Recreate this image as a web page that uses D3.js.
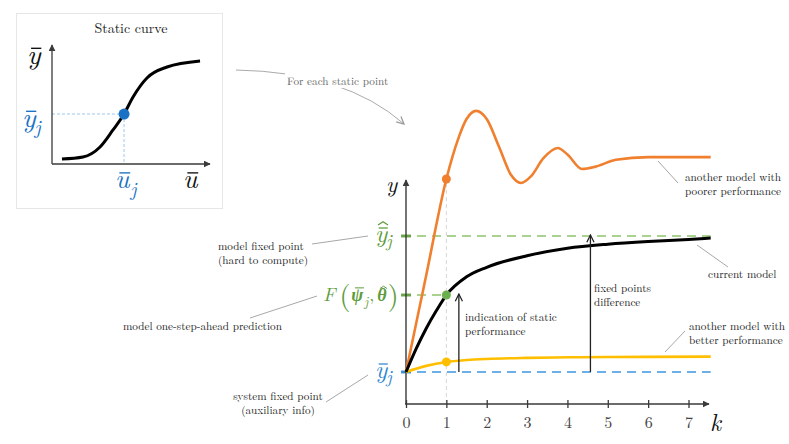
<!DOCTYPE html>
<html><head><meta charset="utf-8">
<script src="https://cdn.jsdelivr.net/npm/d3@7"></script>
<style>
html,body{margin:0;padding:0;background:#fff;}
svg{display:block;}
</style></head>
<body>
<svg id="c" width="789" height="444"></svg>
<script>
// ---------------- DATA ----------------
const kTicks = [0,1,2,3,4,5,6,7];
// current model (black)
const currentK = [0, 0.25, 0.5, 0.75, 1, 1.5, 2, 3, 4, 5, 6, 7, 7.55];
const currentY = [0, 0.17, 0.32, 0.45, 0.566, 0.70, 0.77, 0.855, 0.91, 0.94, 0.96, 0.975, 0.985];
// another model with better performance (yellow)
const betterK = [0, 0.5, 1, 1.5, 2, 3, 4, 5, 6, 7.55];
const betterY = [0, 0.045, 0.074, 0.088, 0.096, 0.104, 0.108, 0.110, 0.111, 0.113];
// another model with poorer performance (orange)
const poorerK = [0, 0.5, 1, 1.3, 1.5, 1.74, 2.0, 2.3, 2.6, 2.85, 3.1, 3.4, 3.76, 4.0, 4.36, 4.7, 5.2, 6, 7.55];
const poorerY = [0, 0.71, 1.419, 1.72, 1.86, 1.92, 1.86, 1.66, 1.45, 1.39, 1.44, 1.57, 1.647, 1.60, 1.493, 1.51, 1.56, 1.58, 1.58];
// reference levels
const systemFixedLevel = 0;
const oneStepLevel = 0.566;
const modelFixedLevel = 1;
const markerK = 1;
const indicationArrowK = 1.31;
const fixedDiffArrowK = 4.57;
// inset static curve
const staticU = [0.063, 0.196, 0.304, 0.386, 0.456, 0.513, 0.601, 0.728, 0.937];
const staticY = [0.042, 0.059, 0.143, 0.286, 0.42, 0.563, 0.723, 0.815, 0.866];
const staticPointU = 0.456, staticPointY = 0.42;

// ---------------- COLORS ----------------
const C = {
  axis:"#3a3a3a", black:"#000", orange:"#f07f2e", yellow:"#ffbf00",
  green:"#5e9c3b", greenDot:"#6ab04c", greenDash:"#8dc46b",
  blue:"#2f86d1", blueDash:"#3d97e0", blueDot:"#1a72c4",
  note:"#222", lead:"#a8a8a8"
};
const SERIF = "'Latin Modern Roman', 'Liberation Serif', serif";

const svg = d3.select("#c");
const defs = svg.append("defs");
function marker(id, color, size){
  defs.append("marker").attr("id",id).attr("viewBox","0 0 10 10").attr("refX",9).attr("refY",5)
    .attr("markerWidth",size).attr("markerHeight",size).attr("orient","auto-start-reverse")
    .attr("markerUnits","userSpaceOnUse")
    .append("path").attr("d","M0,0 L10,5 L0,10 z").attr("fill",color);
}
function openMarker(id, color, size){
  defs.append("marker").attr("id",id).attr("viewBox","0 0 10 10").attr("refX",9).attr("refY",5)
    .attr("markerWidth",size).attr("markerHeight",size).attr("orient","auto")
    .attr("markerUnits","userSpaceOnUse")
    .append("path").attr("d","M1,1 L9,5 L1,9").attr("fill","none").attr("stroke",color).attr("stroke-width",1.4);
}
marker("axArrow", C.axis, 7);
openMarker("openBlack", "#222", 9);
openMarker("openGray", "#999", 9);

// math label helper
function mathVar(g, o){
  const size=o.size, x=o.x, y=o.y;
  const t = g.append("text").attr("x",x).attr("y",y).attr("font-size",size).attr("font-family",SERIF)
    .attr("font-style","italic").attr("font-weight",o.bold?"bold":"normal")
    .attr("fill",o.color).text(o.letter);
  const w = t.node().getComputedTextLength();
  const xh = o.xh || 0.43;
  if(o.bar){
    const by = y - size*(xh+0.13);
    g.append("line").attr("x1",x+w*0.3).attr("x2",x+w*1.05).attr("y1",by).attr("y2",by)
      .attr("stroke",o.color).attr("stroke-width",Math.max(1,size*0.05));
  }
  if(o.hat){
    const hy = y - size*(xh+ (o.bar?0.33:0.15));
    const cx = x + w*0.66;
    g.append("path").attr("d",`M${cx-size*0.2},${hy+size*0.08} L${cx},${hy-size*0.05} L${cx+size*0.2},${hy+size*0.08}`)
      .attr("fill","none").attr("stroke",o.color).attr("stroke-width",Math.max(1,size*0.05));
  }
  let end = x+w;
  if(o.sub){
    const s = g.append("text").attr("x",x+w+(o.subDx||1)).attr("y",y+size*(o.subDy||0.28)).attr("font-size",size*0.72)
      .attr("font-family",SERIF).attr("font-style","italic").attr("fill",o.color).text(o.sub);
    end = x+w+(o.subDx||1)+s.node().getComputedTextLength();
  }
  return end;
}

// ---------------- MAIN PLOT ----------------
const x = d3.scaleLinear().domain([0,7]).range([406, 688.5]);
const y = d3.scaleLinear().domain([0,1]).range([372, 236]);
const xAxisY = 404;
const g = svg.append("g");

// light gray vertical dashed at k=1
g.append("line").attr("x1",x(markerK)).attr("x2",x(markerK)).attr("y1",xAxisY).attr("y2",y(poorerY[2]))
  .attr("stroke","#d6d6d6").attr("stroke-width",1).attr("stroke-dasharray","4,3");

// reference dashed levels
g.append("line").attr("x1",402).attr("x2",x(7.55)).attr("y1",y(modelFixedLevel)).attr("y2",y(modelFixedLevel))
  .attr("stroke",C.greenDash).attr("stroke-width",1.6).attr("stroke-dasharray","9,6");
g.append("line").attr("x1",402).attr("x2",x(markerK)).attr("y1",y(oneStepLevel)).attr("y2",y(oneStepLevel))
  .attr("stroke",C.greenDash).attr("stroke-width",1.6).attr("stroke-dasharray","9,6");
g.append("line").attr("x1",402).attr("x2",x(7.55)).attr("y1",y(systemFixedLevel)).attr("y2",y(systemFixedLevel))
  .attr("stroke",C.blueDash).attr("stroke-width",1.6).attr("stroke-dasharray","9,6");
// small solid ticks on y axis
[[modelFixedLevel,C.green],[oneStepLevel,C.green],[systemFixedLevel,C.blue]].forEach(([v,c])=>{
  g.append("line").attr("x1",401).attr("x2",411).attr("y1",y(v)).attr("y2",y(v)).attr("stroke",c).attr("stroke-width",3).attr("opacity",0.85);
});

// axes
const xAxis = d3.axisBottom(x).tickValues(kTicks).tickSize(0).tickFormat(d3.format("d"));
const ax = g.append("g").attr("transform",`translate(0,${xAxisY})`).call(xAxis).attr("font-family",SERIF);
ax.select(".domain").remove();
ax.selectAll(".tick text").attr("font-size",16).attr("fill","#444").attr("dy",0).attr("y",24)
  .attr("font-family",SERIF);
ax.selectAll(".tick").append("line").attr("y1",-4).attr("y2",4).attr("stroke",C.axis).attr("stroke-width",1.3);
g.append("line").attr("x1",x(0)-1).attr("x2",709).attr("y1",xAxisY).attr("y2",xAxisY)
  .attr("stroke",C.axis).attr("stroke-width",1.4).attr("marker-end","url(#axArrow)");
g.append("line").attr("x1",x(0)).attr("x2",x(0)).attr("y1",xAxisY).attr("y2",180)
  .attr("stroke",C.axis).attr("stroke-width",1.4).attr("marker-end","url(#axArrow)");

// curves
const line = d3.line().x(d=>x(d[0])).y(d=>y(d[1])).curve(d3.curveMonotoneX);
g.append("path").datum(poorerK.map((k,i)=>[k,poorerY[i]])).attr("d",line)
  .attr("fill","none").attr("stroke",C.orange).attr("stroke-width",2.6);
g.append("path").datum(betterK.map((k,i)=>[k,betterY[i]])).attr("d",line)
  .attr("fill","none").attr("stroke",C.yellow).attr("stroke-width",2.6);
g.append("path").datum(currentK.map((k,i)=>[k,currentY[i]])).attr("d",line)
  .attr("fill","none").attr("stroke",C.black).attr("stroke-width",3);

// dots at k=1
g.append("circle").attr("cx",x(markerK)).attr("cy",y(poorerY[2])).attr("r",4.5).attr("fill",C.orange);
g.append("circle").attr("cx",x(markerK)).attr("cy",y(oneStepLevel)).attr("r",4.5).attr("fill",C.greenDot);
g.append("circle").attr("cx",x(markerK)).attr("cy",y(betterY[2])).attr("r",4.5).attr("fill",C.yellow);

// arrows
g.append("line").attr("x1",x(indicationArrowK)).attr("x2",x(indicationArrowK)).attr("y1",y(systemFixedLevel)).attr("y2",y(oneStepLevel)-1)
  .attr("stroke","#222").attr("stroke-width",1.3).attr("marker-end","url(#openBlack)");
g.append("line").attr("x1",x(fixedDiffArrowK)).attr("x2",x(fixedDiffArrowK)).attr("y1",y(systemFixedLevel)).attr("y2",y(modelFixedLevel)-1)
  .attr("stroke","#222").attr("stroke-width",1.3).attr("marker-end","url(#openBlack)");

// axis labels
mathVar(g,{x:386,y:192,letter:"y",size:23,color:"#111"});
mathVar(g,{x:710,y:431,letter:"k",size:24,color:"#111"});

// left level labels
mathVar(g,{x:375,y:378,letter:"y",size:25,color:C.blue,bar:true,sub:"j",subDx:-1,subDy:0.2});
mathVar(g,{x:375,y:242,letter:"y",size:25,color:C.green,bar:true,hat:true,sub:"j",subDx:-1,subDy:0.2});
// F(psi_j, theta)
(function(){
  const by=301, c=C.green;
  let cx=323;
  let t=g.append("text").attr("x",cx).attr("y",by).attr("font-size",19).attr("font-family",SERIF).attr("font-style","italic").attr("fill",c).text("F");
  cx+=t.node().getComputedTextLength()+4;
  t=g.append("text").attr("x",cx).attr("y",by+4).attr("font-size",28).attr("font-family",SERIF).attr("fill",c).text("(");
  cx+=t.node().getComputedTextLength()+1;
  cx=mathVar(g,{x:cx,y:by,letter:"ψ",size:18,color:c,bold:true,bar:true,xh:0.6,sub:"j",subDx:0,subDy:0.3});
  t=g.append("text").attr("x",cx+1).attr("y",by).attr("font-size",18).attr("font-family",SERIF).attr("fill",c).text(",");
  cx+=t.node().getComputedTextLength()+4;
  cx=mathVar(g,{x:cx,y:by,letter:"θ",size:18,color:c,bold:true,hat:true,xh:0.62});
  g.append("text").attr("x",cx+1).attr("y",by+4).attr("font-size",28).attr("font-family",SERIF).attr("fill",c).text(")");
})();

// annotations
function note(lines, x0, y0, anchor, lh){
  lines.forEach((s,i)=>svg.append("text").attr("font-size",11.2).attr("font-family",SERIF).attr("fill",C.note)
    .attr("text-anchor",anchor||"start").attr("x",x0).attr("y",y0+i*(lh||14)).text(s));
}
function lead(x1,y1,x2,y2){
  svg.append("line").attr("x1",x1).attr("y1",y1).attr("x2",x2).attr("y2",y2).attr("stroke",C.lead).attr("stroke-width",1);
}
note(["model fixed point","(hard to compute)"],218,250);
lead(312,244,368,236);
note(["model one-step-ahead prediction"],123,330);
lead(250,318,317,296);
note(["system fixed point","(auxiliary info)"],278,400,"middle");
lead(326,402,368,375);
note(["another model with","poorer performance"],685,181);
lead(658,161,678,183);
note(["current model"],708,278);
lead(697,245,728,267);
note(["fixed points","difference"],594,292);
note(["another model with","better performance"],689,330);
lead(665,352,685,331);
note(["indication of static","performance"],465,321);

// ---------------- INSET ----------------
const ins = svg.append("g");
ins.append("rect").attr("x",16.5).attr("y",13.5).attr("width",206).attr("height",195)
  .attr("fill","#fff").attr("stroke","#e6e6e6").attr("stroke-width",1);
ins.append("text").attr("x",131).attr("y",33).attr("text-anchor","middle").attr("font-size",14)
  .attr("font-family",SERIF).attr("fill","#222").text("Static curve");
const sx = d3.scaleLinear().domain([0,1]).range([52,210]);
const sy = d3.scaleLinear().domain([0,1]).range([164,45]);
ins.append("line").attr("x1",sx(0)).attr("x2",sx(staticPointU)).attr("y1",sy(staticPointY)).attr("y2",sy(staticPointY))
  .attr("stroke","#9cc8ec").attr("stroke-width",1).attr("stroke-dasharray","3,2");
ins.append("line").attr("x1",sx(staticPointU)).attr("x2",sx(staticPointU)).attr("y1",sy(staticPointY)).attr("y2",sy(0))
  .attr("stroke","#9cc8ec").attr("stroke-width",1).attr("stroke-dasharray","3,2");
ins.append("line").attr("x1",sx(0)).attr("x2",210).attr("y1",sy(0)).attr("y2",sy(0))
  .attr("stroke",C.axis).attr("stroke-width",1.3).attr("marker-end","url(#axArrow)");
ins.append("line").attr("x1",sx(0)).attr("x2",sx(0)).attr("y1",sy(0)).attr("y2",45)
  .attr("stroke",C.axis).attr("stroke-width",1.3).attr("marker-end","url(#axArrow)");
const sline = d3.line().x(d=>sx(d[0])).y(d=>sy(d[1])).curve(d3.curveMonotoneX);
ins.append("path").datum(staticU.map((u,i)=>[u,staticY[i]])).attr("d",sline)
  .attr("fill","none").attr("stroke","#000").attr("stroke-width",3);
ins.append("circle").attr("cx",sx(staticPointU)).attr("cy",sy(staticPointY)).attr("r",5.5).attr("fill",C.blueDot);
mathVar(ins,{x:27,y:64,letter:"y",size:28,color:"#111",bar:true});
mathVar(ins,{x:183,y:188,letter:"u",size:27,color:"#111",bar:true});
mathVar(ins,{x:22,y:127,letter:"y",size:28,color:C.blueDot,bar:true,sub:"j",subDx:-1,subDy:0.24});
mathVar(ins,{x:115,y:188,letter:"u",size:27,color:C.blueDot,bar:true,sub:"j",subDx:1,subDy:0.3});

// connector arrow "For each static point"
svg.append("path").attr("d","M236,70 Q345,72 404,124").attr("fill","none").attr("stroke","#aaa").attr("stroke-width",1)
  .attr("marker-end","url(#openGray)");
const bgRect = svg.append("rect").attr("fill","#fff");
const ft = svg.append("text").attr("x",287).attr("y",85).attr("font-size",11.2).attr("font-family",SERIF)
  .attr("fill","#666").text("For each static point");
const bb = ft.node().getBBox();
bgRect.attr("x",bb.x-2).attr("y",bb.y).attr("width",bb.width+4).attr("height",bb.height);
</script>
</body></html>
